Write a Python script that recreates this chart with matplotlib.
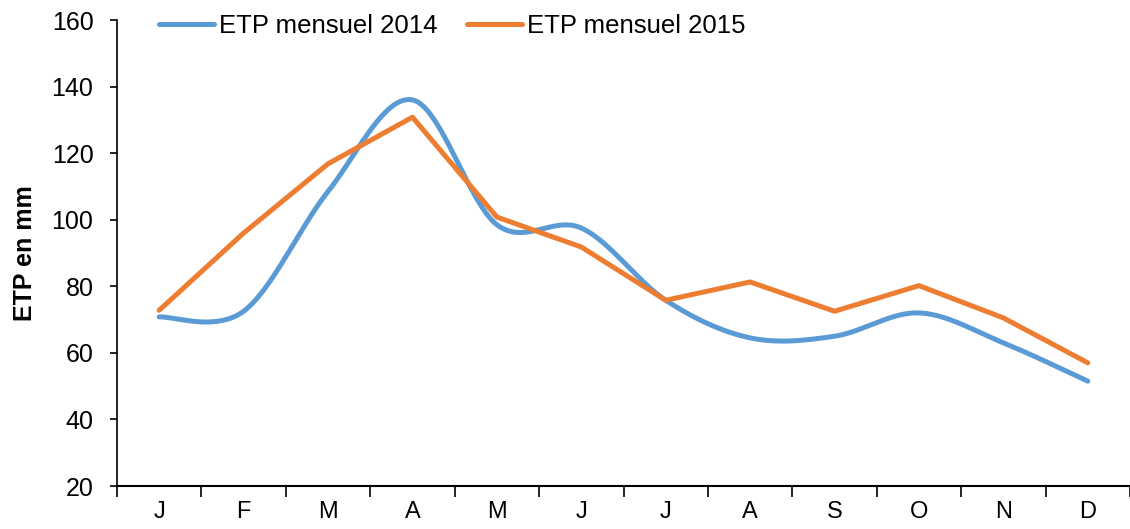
import numpy as np
import matplotlib
matplotlib.use("Agg")
import matplotlib.pyplot as plt
from matplotlib.lines import Line2D

plt.rcParams['font.family'] = ['Liberation Sans', 'DejaVu Sans']

months = ["J", "F", "M", "A", "M", "J", "J", "A", "S", "O", "N", "D"]
etp_2014 = [70.8, 72.5, 108.5, 136.0, 98.5, 97.5, 75.8, 64.5, 65.0, 72.0, 63.0, 51.5]
etp_2015 = [72.8, 96.0, 116.8, 130.8, 100.8, 91.8, 75.8, 81.3, 72.5, 80.2, 70.5, 57.0]
yticks = [20, 40, 60, 80, 100, 120, 140, 160]

blue = "#5B9BD5"
orange = "#ED7D31"


def smooth(xs, ys, n=40):
    # Catmull-Rom style Bezier smoothing (like a spreadsheet's smoothed line)
    xs = np.asarray(xs, float)
    ys = np.asarray(ys, float)
    px = np.concatenate([[xs[0]], xs, [xs[-1]]])
    py = np.concatenate([[ys[0]], ys, [ys[-1]]])
    outx, outy = [], []
    t = np.linspace(0, 1, n)
    for i in range(1, len(px) - 2):
        p0 = np.array([px[i], py[i]])
        p3 = np.array([px[i + 1], py[i + 1]])
        c1 = p0 + (np.array([px[i + 1], py[i + 1]]) - np.array([px[i - 1], py[i - 1]])) / 6
        c2 = p3 - (np.array([px[i + 2], py[i + 2]]) - np.array([px[i], py[i]])) / 6
        b = ((1 - t) ** 3)[:, None] * p0 + (3 * (1 - t) ** 2 * t)[:, None] * c1 \
            + (3 * (1 - t) * t ** 2)[:, None] * c2 + (t ** 3)[:, None] * p3
        outx.extend(b[:, 0])
        outy.extend(b[:, 1])
    return np.array(outx), np.array(outy)


fig = plt.figure(figsize=(11.3, 5.29), dpi=100)
ax = fig.add_axes([117 / 1130, 1 - 486 / 529, 1 - 117 / 1130, (486 - 20) / 529])

x = np.arange(len(months))
sx, sy = smooth(x, etp_2014)
ax.plot(sx, sy, color=blue, lw=3.6, solid_capstyle='round', solid_joinstyle='round', zorder=3)
ax.plot(x, etp_2015, color=orange, lw=3.6, solid_capstyle='round', solid_joinstyle='round', zorder=4)

ax.set_xlim(-0.5, len(months) - 0.5)
ax.set_ylim(20, 160)
ax.set_yticks(yticks)
ax.set_yticklabels([str(v) for v in yticks], fontsize=18)
ax.set_xticks(np.arange(-0.5, len(months) + 0.5, 1.0))
ax.set_xticklabels([])
ax.set_xticks(x, minor=True)
ax.set_xticklabels(months, minor=True, fontsize=17)
ax.tick_params(axis='x', which='major', length=8, width=1.2, direction='out')
ax.tick_params(axis='x', which='minor', length=0, pad=11)
ax.tick_params(axis='y', length=5, width=1.2, direction='out', pad=12)

for s in ['top', 'right']:
    ax.spines[s].set_visible(False)
ax.spines['left'].set_linewidth(1.2)
ax.spines['bottom'].set_linewidth(1.5)

ax.set_ylabel("ETP en mm", fontsize=18, fontweight='bold')
ax.yaxis.set_label_coords(-0.079, 0.5)

handles = [Line2D([0], [0], color=blue, lw=3.6, solid_capstyle='round'),
           Line2D([0], [0], color=orange, lw=3.6, solid_capstyle='round')]
fig.legend(handles, ["ETP mensuel 2014", "ETP mensuel 2015"], loc='center',
           bbox_to_anchor=(452 / 1130, 1 - 26 / 529), ncol=2, frameon=False,
           fontsize=18.5, handlelength=2.14, handletextpad=0.2, columnspacing=1.13,
           borderpad=0)

fig.savefig("out.png", dpi=100)
